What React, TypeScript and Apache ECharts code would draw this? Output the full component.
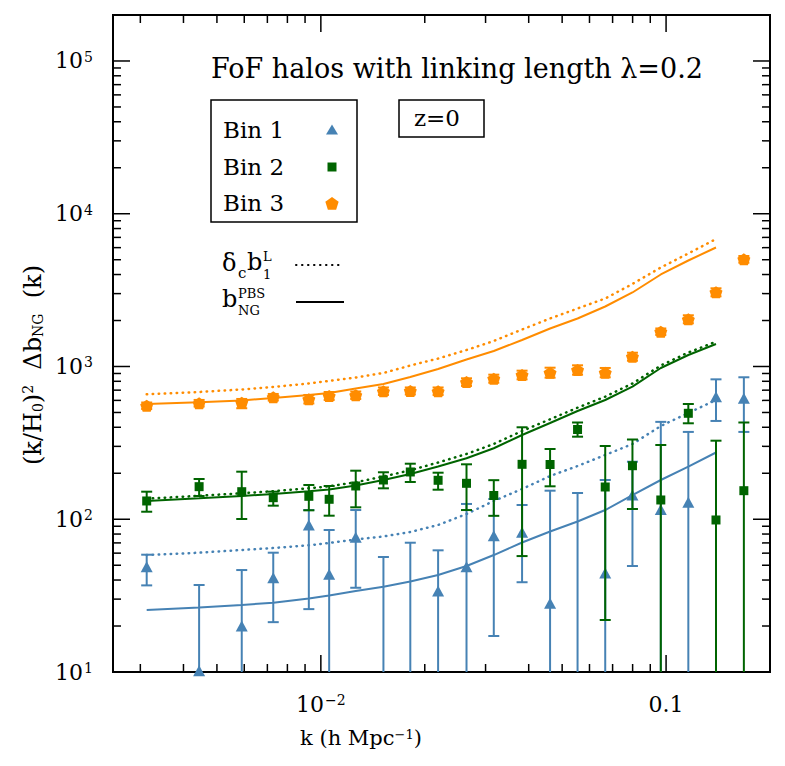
import React, { useEffect, useRef } from 'react';
import * as echarts from 'echarts';

// ---------------- data ----------------
const kValues = [0.00313, 0.00444, 0.0059, 0.00728, 0.00923, 0.01057, 0.01262, 0.01518, 0.01816, 0.02186, 0.02642, 0.03169, 0.03827, 0.04613, 0.05541, 0.06664, 0.07991, 0.09654, 0.116, 0.1395, 0.168];

// Bin 1 (triangles); null = below the axis
const bin1Value = [48.9, 10.2, 20.0, 41.4, 91.7, 43.6, 76.2, null, null, 33.9, 48.9, 78.0, 82.1, 28.2, null, 44.5, 144, 116, 129, 634, 619];
const bin1Upper = [58.6, 37.1, 46.5, 60.4, 114.9, 85.0, 114.9, 56.6, 70.2, 62.6, 125.9, 135.7, 124.0, 153.8, 148.5, 180.7, 238, 434, 373, 824, 850];
const bin1Lower = [36.9, null, null, 21.2, 25.8, null, 35.6, null, null, null, null, 17.2, 38.7, null, null, null, 49.4, null, null, 440, 373];

// Bin 2 (squares)
const bin2Value = [131.7, 163.4, 151.5, 138.4, 141.3, 135.1, 165.1, 180.7, 203.9, 179.9, 171.9, 143.0, 228.9, 228.2, 386.9, 162.6, 224.1, 133.7, 493.9, 98.9, 153.8];
const bin2Upper = [151.5, 183.4, 204.8, 151.5, 167.6, 165.1, 207.9, 203.0, 231.0, 201.7, 228.9, 180.2, 400, 288.4, 429.9, 301.7, 332.7, 306.3, 568, 326.8, 429.9];
const bin2Lower = [112.0, 142.0, 100.4, 122.7, 114.4, 105.5, 119.7, 159.4, 175.4, 156.1, 114.9, 105.3, 57.4, 164.3, 347.1, 21.9, 116.7, null, 424.8, null, null];

// Bin 3 (pentagons)
const bin3Value = [554, 574, 580, 629, 610, 641, 648, 688, 691, 688, 791, 832, 880, 911, 949, 911, 1160, 1690, 2037, 3061, 5033];
const bin3Upper = [581, 604, 613, 661, 651, 681, 686, 729, 729, 729, 837, 884, 939, 982, 1018, 978, 1231, 1774, 2164, 3250, 5290];
const bin3Lower = [527, 547, 533, 599, 573, 604, 613, 651, 656, 651, 746, 783, 824, 845, 884, 850, 1091, 1608, 1918, 2881, 4782];

// theory curves (evaluated at the first 20 k values)
const bin1Linear = [58.3, 60.4, 62.9, 64.8, 67.5, 69.9, 73.7, 77.1, 82.5, 91.7, 108.2, 131.7, 157.8, 191.9, 223.1, 263.4, 310.9, 407.8, 496.2, 603.5];
const bin1PBS = [25.5, 26.4, 27.5, 28.4, 30.3, 31.7, 33.9, 36.2, 39.1, 43.2, 49.4, 58.3, 70.4, 83.2, 96.7, 114.9, 144.1, 180.7, 220.8, 273.5];
const bin2Linear = [136.3, 142.4, 147.9, 152.6, 159.4, 164.3, 174.6, 190.5, 209.2, 235.3, 267.4, 310.9, 378.1, 451.1, 537.4, 634.5, 774.1, 1015, 1235, 1453];
const bin2PBS = [131.7, 137.1, 142.0, 146.3, 152.4, 156.6, 166.4, 180.7, 197.8, 221.5, 250.6, 291.5, 356.0, 426.7, 511.3, 603.5, 737.8, 977.7, 1189, 1404];
const bin3Linear = [658, 681, 707, 734, 774, 804, 847, 907, 1015, 1128, 1282, 1469, 1747, 2062, 2397, 2788, 3469, 4448, 5493, 6834];
const bin3PBS = [568, 583, 599, 622, 651, 671, 718, 768, 854, 963, 1111, 1263, 1491, 1774, 2062, 2470, 3052, 4003, 4942, 6014];

// axes
const xMin = 0.0025;
const xMax = 0.2;
const yMin = 10;
const yMax = 2e5;
const xLabelValues = [0.01, 0.1];
const xLabelTexts = ['{a|10}{s|−2}', '{a|0.1}'];
const yLabelValues = [10, 100, 1000, 10000, 100000];
const yLabelTexts = ['{a|10}{s|1}', '{a|10}{s|2}', '{a|10}{s|3}', '{a|10}{s|4}', '{a|10}{s|5}'];
const legendNames = ['Bin 1', 'Bin 2', 'Bin 3'];

// ---------------- styles ----------------
const FONT = "'DejaVu Serif', serif";
const BLUE = '#4682B4';
const GREEN = '#006400';
const ORANGE = '#FF8C00';
const PENTAGON = 'path://M10,0 L19.51,6.91 L15.88,18.09 L4.12,18.09 L0.49,6.91 Z';

function decadeTicks(min: number, max: number) {
  const out: number[][] = [];
  for (let e = Math.floor(Math.log10(min)); e <= Math.ceil(Math.log10(max)); e++) {
    for (let m = 1; m <= 9; m++) {
      const v = m * Math.pow(10, e);
      if (v > min * 1.0001 && v < max * 0.9999) out.push([v, m === 1 ? 17 : 8]);
    }
  }
  return out;
}

function labelFor(values: number[], texts: string[]) {
  return (v: number) => {
    for (let i = 0; i < values.length; i++) {
      if (Math.abs(v - values[i]) < values[i] * 1e-6) return texts[i];
    }
    return '';
  };
}

const tickRich = {
  a: { fontFamily: FONT, fontSize: 22, color: '#000' },
  s: { fontFamily: FONT, fontSize: 14, color: '#000', verticalAlign: 'top', padding: [0, 0, 8, 1] },
};

export default function App() {
  const ref = useRef<HTMLDivElement>(null);

  useEffect(() => {
    const chart = echarts.init(ref.current!, undefined, { renderer: 'svg' });

    const xTickData = decadeTicks(xMin, xMax).map((t) => [t[0], 100, t[1]]);
    const yTickData = decadeTicks(yMin, yMax).map((t) => [0.01, t[0], t[1]]);

    const tickStyle = { stroke: '#000', lineWidth: 1.5 };

    const xTickSeries = {
      type: 'custom',
      silent: true,
      z: 10,
      data: xTickData,
      encode: { x: 0, y: 1 },
      renderItem: (params: any, api: any) => {
        const cs = params.coordSys;
        const x = api.coord([api.value(0), 100])[0];
        const len = api.value(2);
        const b = cs.y + cs.height;
        return {
          type: 'group',
          children: [
            { type: 'line', shape: { x1: x, y1: b, x2: x, y2: b - len }, style: tickStyle },
            { type: 'line', shape: { x1: x, y1: cs.y, x2: x, y2: cs.y + len }, style: tickStyle },
          ],
        };
      },
    };

    const yTickSeries = {
      type: 'custom',
      silent: true,
      z: 10,
      data: yTickData,
      encode: { x: 0, y: 1 },
      renderItem: (params: any, api: any) => {
        const cs = params.coordSys;
        const y = api.coord([0.01, api.value(1)])[1];
        const len = api.value(2);
        const r = cs.x + cs.width;
        return {
          type: 'group',
          children: [
            { type: 'line', shape: { x1: cs.x, y1: y, x2: cs.x + len, y2: y }, style: tickStyle },
            { type: 'line', shape: { x1: r, y1: y, x2: r - len, y2: y }, style: tickStyle },
          ],
        };
      },
    };

    const errorSeries = (up: (number | null)[], low: (number | null)[], color: string, z: number) => ({
      type: 'custom',
      silent: true,
      z,
      data: kValues.map((k, i) => [k, up[i], low[i] == null ? 0 : low[i]]),
      encode: { x: 0, y: 1 },
      renderItem: (params: any, api: any) => {
        const cs = params.coordSys;
        const k = api.value(0);
        const hi = api.value(1);
        const lo = api.value(2);
        const pTop = api.coord([k, hi]);
        const x = pTop[0];
        const bottom = cs.y + cs.height;
        const yTop = Math.max(pTop[1], cs.y);
        const hasLo = lo > 0;
        const yLo = hasLo ? api.coord([k, lo])[1] : bottom;
        const yBot = Math.min(yLo, bottom);
        const st = { stroke: color, lineWidth: 2 };
        const children: any[] = [
          { type: 'line', shape: { x1: x, y1: yTop, x2: x, y2: yBot }, style: st },
        ];
        if (pTop[1] >= cs.y) children.push({ type: 'line', shape: { x1: x - 5.5, y1: yTop, x2: x + 5.5, y2: yTop }, style: st });
        if (hasLo && yLo <= bottom) children.push({ type: 'line', shape: { x1: x - 5.5, y1: yBot, x2: x + 5.5, y2: yBot }, style: st });
        return { type: 'group', children };
      },
    });

    const pointSeries = (vals: (number | null)[], color: string, symbol: string, size: any, z: number) => ({
      type: 'scatter',
      silent: true,
      z,
      symbol,
      symbolSize: size,
      itemStyle: { color, opacity: 1 },
      data: kValues.map((k, i) => [k, vals[i]]).filter((d) => d[1] != null),
    });

    const lineSeries = (vals: number[], color: string, dotted: boolean) => ({
      type: 'line',
      silent: true,
      z: 2,
      symbol: 'none',
      showSymbol: false,
      data: vals.map((v, i) => [kValues[i], v]),
      lineStyle: dotted
        ? { color, width: 2.5, type: [0.5, 5.5], cap: 'round' }
        : { color, width: 2 },
    });

    const txt = (x: number, y: number, text: string, size: number, extra: any = {}) => ({
      type: 'text',
      x,
      y,
      silent: true,
      style: {
        text,
        fontFamily: FONT,
        fontSize: size,
        fill: '#000',
        verticalAlign: 'middle',
        align: 'left',
        ...extra,
      },
    });

    const legendY = [130, 167, 203];
    const graphic: any[] = [
      txt(211, 68, 'FoF halos with linking length λ=0.2', 27),
      {
        type: 'rect', silent: true,
        shape: { x: 211, y: 100, width: 146, height: 122 },
        style: { fill: 'none', stroke: '#000', lineWidth: 1.5 },
      },
      ...legendNames.map((n, i) => txt(223, legendY[i], n, 23)),
      {
        type: 'polygon', silent: true,
        shape: { points: [[332, legendY[0] - 5.5], [338, legendY[0] + 4.5], [326, legendY[0] + 4.5]] },
        style: { fill: BLUE },
      },
      {
        type: 'rect', silent: true,
        shape: { x: 327.5, y: legendY[1] - 4.5, width: 9, height: 9 },
        style: { fill: GREEN },
      },
      {
        type: 'polygon', silent: true,
        shape: {
          points: [0, 1, 2, 3, 4].map((j) => {
            const a = -Math.PI / 2 + (j * 2 * Math.PI) / 5;
            return [332 + 7 * Math.cos(a), legendY[2] + 1 + 7 * Math.sin(a)];
          }),
        },
        style: { fill: ORANGE },
      },
      {
        type: 'rect', silent: true,
        shape: { x: 399, y: 100, width: 85, height: 37 },
        style: { fill: 'none', stroke: '#000', lineWidth: 1.5 },
      },
      txt(437, 118, 'z=0', 23, { align: 'center' }),
      // delta_c b_1^L
      txt(222, 263, 'δ', 24),
      txt(238, 273, 'c', 15),
      txt(247, 262, 'b', 24),
      txt(263, 256, 'L', 13),
      txt(263, 274, '1', 13),
      {
        type: 'line', silent: true,
        shape: { x1: 296, y1: 265, x2: 344, y2: 265 },
        style: { stroke: '#000', lineWidth: 2, lineDash: [0.5, 5.5], lineCap: 'round' },
      },
      // b_NG^PBS
      txt(222, 299, 'b', 24),
      txt(238, 293, 'PBS', 13),
      txt(238, 310, 'NG', 13),
      {
        type: 'line', silent: true,
        shape: { x1: 296, y1: 302, x2: 344, y2: 302 },
        style: { stroke: '#000', lineWidth: 2 },
      },
      // axis titles
      {
        type: 'text', silent: true, x: 361, y: 738,
        style: {
          text: '{a|k (h Mpc}{s|−1}{a|)}',
          align: 'center', verticalAlign: 'middle',
          rich: {
            a: { fontFamily: FONT, fontSize: 21, fill: '#000' },
            s: { fontFamily: FONT, fontSize: 13, fill: '#000', verticalAlign: 'top' },
          },
        },
      },
      {
        type: 'text', silent: true, x: 33, y: 365, rotation: Math.PI / 2,
        style: {
          text: '{a|(k/H}{d|0}{a|)}{s|2}{a|  Δb}{d|NG}{a|  (k)}',
          align: 'center', verticalAlign: 'middle',
          rich: {
            a: { fontFamily: FONT, fontSize: 24, fill: '#000' },
            s: { fontFamily: FONT, fontSize: 14, fill: '#000', verticalAlign: 'top' },
            d: { fontFamily: FONT, fontSize: 14, fill: '#000', verticalAlign: 'bottom' },
          },
        },
      },
    ];

    const option: any = {
      animation: false,
      backgroundColor: '#fff',
      grid: {
        left: 113, top: 15, right: 15, bottom: 94,
        show: true, borderColor: '#000', borderWidth: 2, backgroundColor: 'transparent',
      },
      xAxis: {
        type: 'log', logBase: 10, min: xMin, max: xMax,
        axisLine: { show: false },
        axisTick: { show: false },
        splitLine: { show: false },
        minorTick: { show: false },
        axisLabel: {
          formatter: labelFor(xLabelValues, xLabelTexts),
          rich: tickRich, margin: 21,
          showMinLabel: false, showMaxLabel: false,
        },
      },
      yAxis: {
        type: 'log', logBase: 10, min: yMin, max: yMax,
        axisLine: { show: false },
        axisTick: { show: false },
        splitLine: { show: false },
        minorTick: { show: false },
        axisLabel: {
          formatter: labelFor(yLabelValues, yLabelTexts),
          rich: tickRich, margin: 20,
          showMinLabel: true, showMaxLabel: false,
        },
      },
      graphic,
      series: [
        xTickSeries,
        yTickSeries,
        lineSeries(bin3Linear, ORANGE, true),
        lineSeries(bin3PBS, ORANGE, false),
        lineSeries(bin2Linear, GREEN, true),
        lineSeries(bin2PBS, GREEN, false),
        lineSeries(bin1Linear, BLUE, true),
        lineSeries(bin1PBS, BLUE, false),
        errorSeries(bin1Upper, bin1Lower, BLUE, 3),
        pointSeries(bin1Value, BLUE, 'triangle', [12, 11], 4),
        errorSeries(bin2Upper, bin2Lower, GREEN, 5),
        pointSeries(bin2Value, GREEN, 'rect', 9, 6),
        errorSeries(bin3Upper, bin3Lower, ORANGE, 7),
        pointSeries(bin3Value, ORANGE, PENTAGON, [13, 12], 8),
      ],
    };

    chart.setOption(option);
    return () => chart.dispose();
  }, []);

  return (
    <div
      ref={ref}
      style={{ position: 'absolute', left: 0, top: 0, width: 785, height: 766 }}
    />
  );
}
